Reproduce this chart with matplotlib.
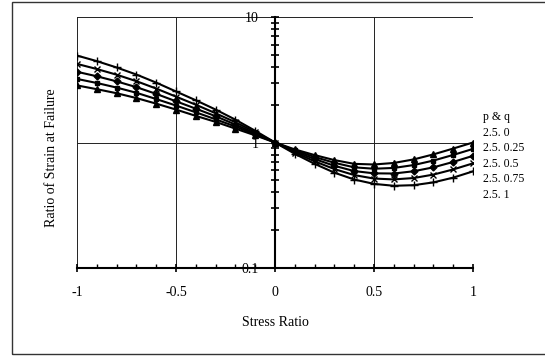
#! /usr/bin/env python3
"""Verhaeltnis der Bruchdehnung ueber dem Spannungsverhaeltnis (log-Skala)."""

import matplotlib
matplotlib.use('Agg')
import matplotlib.pyplot as plt
from matplotlib.patches import Rectangle
from matplotlib.ticker import NullFormatter

plt.rcParams['font.family'] = ['Liberation Serif', 'DejaVu Serif']

# Messdaten: Spannungsverhaeltnis und Dehnungsverhaeltnis fuer p & q
stress = [-1.0, -0.9, -0.8, -0.7, -0.6, -0.5, -0.4, -0.3, -0.2, -0.1, 0.0,
          0.1, 0.2, 0.3, 0.4, 0.5, 0.6, 0.7, 0.8, 0.9, 1.0]

labels = ['2.5. 0', '2.5. 0.25', '2.5. 0.5', '2.5. 0.75', '2.5. 1']

ratio_q000 = [2.85, 2.66, 2.47, 2.26, 2.04, 1.83, 1.63, 1.46, 1.29, 1.14, 1.00,
              0.881, 0.794, 0.724, 0.676, 0.668, 0.687, 0.733, 0.804, 0.895, 1.00]
ratio_q025 = [3.21, 2.98, 2.74, 2.49, 2.22, 1.97, 1.74, 1.53, 1.34, 1.16, 1.00,
              0.865, 0.767, 0.689, 0.634, 0.618, 0.627, 0.661, 0.718, 0.796, 0.889]
ratio_q050 = [3.66, 3.37, 3.07, 2.76, 2.44, 2.13, 1.86, 1.62, 1.39, 1.18, 1.00,
              0.849, 0.738, 0.652, 0.592, 0.568, 0.566, 0.590, 0.634, 0.700, 0.783]
ratio_q075 = [4.23, 3.85, 3.47, 3.08, 2.69, 2.32, 2.00, 1.71, 1.45, 1.21, 1.00,
              0.832, 0.708, 0.614, 0.550, 0.516, 0.508, 0.521, 0.555, 0.610, 0.682]
ratio_q100 = [4.93, 4.45, 3.96, 3.48, 3.00, 2.55, 2.17, 1.83, 1.52, 1.24, 1.00,
              0.813, 0.676, 0.575, 0.507, 0.468, 0.452, 0.457, 0.481, 0.525, 0.589]

series = [ratio_q000, ratio_q025, ratio_q050, ratio_q075, ratio_q100]
markers = ['^', 's', 'D', 'x', '+']
msizes = [4, 3.5, 3.5, 4, 6]

fig = plt.figure(figsize=(5.45, 3.56), dpi=100)
ax = fig.add_axes([77/545, 1-268/356, 396/545, 251/356])

# Rahmen um das ganze Diagramm
fig.patches.append(Rectangle((12/545, 2/356), 1.0, 352/356, transform=fig.transFigure,
                             fill=False, ec='#333333', lw=1.0))

for y, lab, m, ms in zip(series, labels, markers, msizes):
    ax.plot(stress, y, color='black', lw=1.5, marker=m, ms=ms, mew=1.0, label=lab, zorder=3)

ax.set_yscale('log')
ax.set_xlim(-1, 1)
ax.set_ylim(0.1, 10)

ax.set_xticks([-1, -0.5, 0, 0.5, 1], labels=['-1', '-0.5', '0', '0.5', '1'])
ax.set_xticks([i/10 for i in range(-10, 11)], minor=True)
ax.set_yticks([0.1, 1, 10], labels=['0.1', '1', '10'])
ax.set_yticks([k*10.0**e for e in (-1, 0) for k in range(2, 10)], minor=True)
ax.yaxis.set_minor_formatter(NullFormatter())

ax.grid(which='major', color='#222222', lw=0.7)
ax.set_axisbelow(True)

# Achsen: y-Achse bei x = 0, x-Achse unten
ax.spines['left'].set_position(('data', 0))
ax.spines['left'].set_linewidth(1.5)
ax.spines['bottom'].set_linewidth(1.5)
ax.spines['top'].set_visible(False)
ax.spines['right'].set_visible(False)

ax.tick_params(axis='x', which='major', direction='inout', length=6, width=1.2,
               pad=10, labelsize=10)
ax.tick_params(axis='x', which='minor', direction='in', length=3, width=1.0)
ax.tick_params(axis='y', which='both', direction='inout', length=6, width=1.2,
               pad=9, labelsize=10)

ax.set_xlabel('Stress Ratio', fontsize=10, labelpad=12)
fig.text(52/545, 1-158/356, 'Ratio of Strain at Failure', rotation=90,
         ha='center', va='center', fontsize=10)

leg = ax.legend(loc='upper left', bbox_to_anchor=(483/545, 1-111/356),
                bbox_transform=fig.transFigure, frameon=False, title='p & q',
                fontsize=8.5, title_fontsize=8.5, alignment='left',
                handlelength=0, handletextpad=0, labelspacing=0.3,
                borderpad=0, borderaxespad=0)
for h in leg.legend_handles:
    h.set_visible(False)

fig.savefig('out.png', dpi=100)
